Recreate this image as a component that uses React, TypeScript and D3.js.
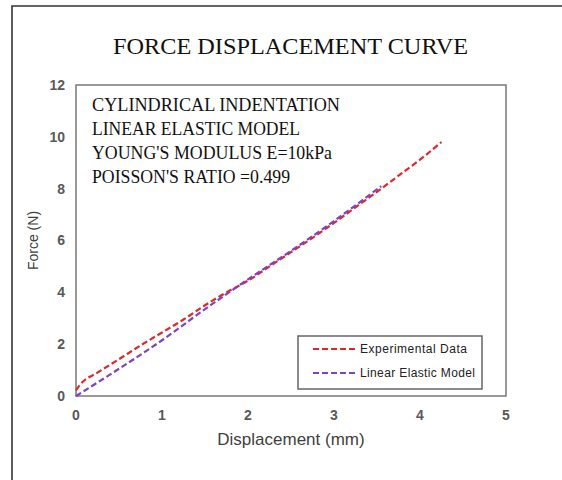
import React from "react";
import * as d3 from "d3";

const title = "FORCE DISPLACEMENT CURVE";
const xLabel = "Displacement (mm)";
const yLabel = "Force (N)";
const xTicks = [0, 1, 2, 3, 4, 5];
const yTicks = [0, 2, 4, 6, 8, 10, 12];

const expX = [0, 0.05, 0.25, 0.5, 0.75, 1, 1.25, 1.5, 1.75, 2, 2.25, 2.5, 2.75, 3, 3.25, 3.5, 3.75, 4, 4.25];
const expY = [0.22, 0.45, 0.9, 1.42, 1.95, 2.45, 2.95, 3.5, 4.0, 4.45, 5.0, 5.55, 6.1, 6.68, 7.28, 7.88, 8.5, 9.12, 9.8];

const modelX = [0, 0.5, 1, 1.5, 2, 2.5, 3, 3.55];
const modelY = [0, 1.05, 2.15, 3.35, 4.5, 5.6, 6.75, 8.1];

const seriesNames = ["Experimental Data", "Linear Elastic Model"];
const seriesColors = ["#e0262b", "#8040c8"];

const annotation = [
  "CYLINDRICAL INDENTATION",
  "LINEAR ELASTIC MODEL",
  "YOUNG'S MODULUS E=10kPa",
  "POISSON'S RATIO =0.499",
];
const annotationWidths = [248, 208, 240, 198];

export default function App() {
  const W = 562, H = 480;
  const left = 76, right = 506, top = 85, bottom = 396;
  const x = d3.scaleLinear().domain([0, 5]).range([left, right]);
  const y = d3.scaleLinear().domain([0, 12]).range([bottom, top]);
  const line = d3.line<[number, number]>().x(d => x(d[0])).y(d => y(d[1])).curve(d3.curveMonotoneX);
  const expPts = expX.map((v, i) => [v, expY[i]] as [number, number]);
  const modPts = modelX.map((v, i) => [v, modelY[i]] as [number, number]);
  const paths = [expPts, modPts];

  const sans = "'Liberation Sans', Arial, sans-serif";
  const serif = "'Liberation Serif', 'Times New Roman', serif";

  return (
    <svg width={W} height={H} style={{ position: "absolute", left: 0, top: 0, background: "#fff" }}>
      <rect x={0} y={0} width={W} height={H} fill="#fff" />
      <path d={`M12,${H} L12,6 L${W},6`} fill="none" stroke="#333" strokeWidth={1.6} />
      <text x={113} y={54} fontFamily={serif} fontSize={23} fill="#111" textLength={355} lengthAdjust="spacingAndGlyphs">
        {title}
      </text>
      <rect x={left} y={top} width={right - left} height={bottom - top} fill="#fff" stroke="#808080" strokeWidth={1.6} />
      {yTicks.map(t => (
        <text key={"y" + t} x={65} y={y(t)} dy="0.35em" textAnchor="end" fontFamily={sans} fontSize={14} fontWeight="bold" fill="#595959">
          {t}
        </text>
      ))}
      {xTicks.map(t => (
        <text key={"x" + t} x={x(t)} y={415} dy="0.35em" textAnchor="middle" fontFamily={sans} fontSize={14} fontWeight="bold" fill="#595959">
          {t}
        </text>
      ))}
      <text x={(left + right) / 2} y={445} textAnchor="middle" fontFamily={sans} fontSize={17} fill="#404040">
        {xLabel}
      </text>
      <text transform={`translate(38,${(top + bottom) / 2}) rotate(-90)`} textAnchor="middle" fontFamily={sans} fontSize={14} fill="#404040">
        {yLabel}
      </text>
      {annotation.map((s, i) => (
        <text key={s} x={92} y={111 + i * 24} fontFamily={serif} fontSize={19} fill="#111" textLength={annotationWidths[i]} lengthAdjust="spacingAndGlyphs">
          {s}
        </text>
      ))}
      {paths.map((p, i) => (
        <path key={i} d={line(p) || ""} fill="none" stroke={seriesColors[i]} strokeWidth={2.2} strokeDasharray="6,3" />
      ))}
      <rect x={298} y={336} width={184} height={53} fill="#fff" stroke="#666" strokeWidth={1.5} />
      {seriesNames.map((n, i) => (
        <g key={n}>
          <line x1={313} x2={358} y1={349 + i * 24} y2={349 + i * 24} stroke={seriesColors[i]} strokeWidth={2.2} strokeDasharray="6,3" />
          <text x={360} y={349 + i * 24} dy="0.35em" fontFamily={sans} fontSize={12} fill="#222" textLength={i === 0 ? 107 : 115} lengthAdjust="spacing">
            {n}
          </text>
        </g>
      ))}
    </svg>
  );
}
